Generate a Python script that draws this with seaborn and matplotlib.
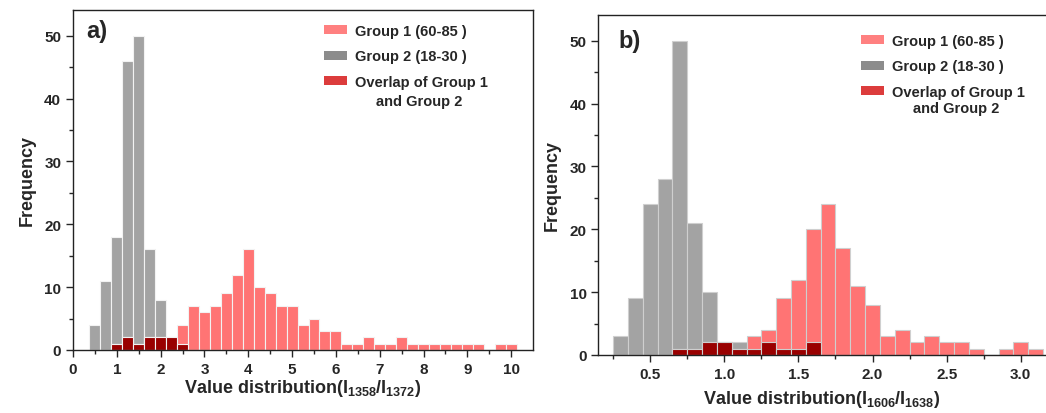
import numpy as np
import pandas as pd
import seaborn as sns
from matplotlib import pyplot as plt
from matplotlib.patches import Patch

# Panel a) counts, bins of 0.25 centred on the listed values
g1_a_x = [1.0, 1.25, 1.5, 1.75, 2.0, 2.25, 2.5, 2.75, 3.0, 3.25, 3.5, 3.75, 4.0,
          4.25, 4.5, 4.75, 5.0, 5.25, 5.5, 5.75, 6.0, 6.25, 6.5, 6.75, 7.0, 7.25,
          7.5, 7.75, 8.0, 8.25, 8.5, 8.75, 9.0, 9.25, 9.75, 10.0]
g1_a_n = [1, 2, 1, 2, 2, 2, 4, 7, 6, 7, 9, 12, 16,
          10, 9, 7, 7, 4, 5, 3, 3, 1, 1, 2, 1, 1,
          2, 1, 1, 1, 1, 1, 1, 1, 1, 1]
g2_a_x = [0.5, 0.75, 1.0, 1.25, 1.5, 1.75, 2.0, 2.25, 2.5]
g2_a_n = [4, 11, 18, 46, 50, 16, 8, 2, 1]
ov_a_x = [1.0, 1.25, 1.5, 1.75, 2.0, 2.25, 2.5]
ov_a_n = [1, 2, 1, 2, 2, 2, 1]

# Panel b) counts, bins of 0.1
g1_b_x = [0.7, 0.8, 0.9, 1.0, 1.1, 1.2, 1.3, 1.4, 1.5, 1.6, 1.7, 1.8, 1.9, 2.0,
          2.1, 2.2, 2.3, 2.4, 2.5, 2.6, 2.7, 2.9, 3.0, 3.1]
g1_b_n = [1, 1, 2, 2, 1, 3, 4, 9, 12, 20, 24, 17, 11, 8,
          3, 4, 2, 3, 2, 2, 1, 1, 2, 1]
g2_b_x = [0.3, 0.4, 0.5, 0.6, 0.7, 0.8, 0.9, 1.0, 1.1, 1.2, 1.3, 1.4, 1.5, 1.6]
g2_b_n = [3, 9, 24, 28, 50, 21, 10, 2, 2, 1, 2, 1, 1, 2]
ov_b_x = [0.7, 0.8, 0.9, 1.0, 1.1, 1.2, 1.3, 1.4, 1.5, 1.6]
ov_b_n = [1, 1, 2, 2, 1, 1, 2, 1, 1, 2]

sns.set_style("ticks")
plt.rcParams['font.family'] = ['Liberation Sans', 'DejaVu Sans']
plt.rcParams['font.weight'] = 'bold'
plt.rcParams['axes.labelweight'] = 'bold'
plt.rcParams['mathtext.fontset'] = 'custom'
plt.rcParams['mathtext.rm'] = 'Liberation Sans:bold'
plt.rcParams['mathtext.it'] = 'Liberation Sans:bold'
plt.rcParams['mathtext.bf'] = 'Liberation Sans:bold'

c_g1 = '#ff7474'
c_g2 = '#a3a3a3'
c_ov = '#990000'
leg_colors = ['#ff8080', '#8c8c8c', '#dc3c3c']

fig = plt.figure(figsize=(10.46, 4.14), dpi=100)
ax_a = fig.add_axes([0.0698, 0.1522, 0.4398, 0.8213])
ax_b = fig.add_axes([0.572, 0.1401, 0.428, 0.8213])

edges_a = [float(e) for e in np.arange(0.375, 10.2, 0.25)]
edges_b = [float(e) for e in np.round(np.arange(0.25, 3.2, 0.1), 2)]


def draw(ax, edges, gx, gn, hx, hn, ox, on, ec):
    for xs, ns, col in ((hx, hn, c_g2), (gx, gn, c_g1), (ox, on, c_ov)):
        d = pd.DataFrame({'value': xs, 'count': ns})
        sns.histplot(data=d, x='value', weights='count', bins=edges, color=col,
                     alpha=1, edgecolor=ec, linewidth=0.8, ax=ax)


draw(ax_a, edges_a, g1_a_x, g1_a_n, g2_a_x, g2_a_n, ov_a_x, ov_a_n, '#f2f2f2')
draw(ax_b, edges_b, g1_b_x, g1_b_n, g2_b_x, g2_b_n, ov_b_x, ov_b_n, '#cfcfcf')

# Axes a
ax_a.set_xlim(0, 10.5)
ax_a.set_ylim(0, 54.1)
ax_a.set_xticks(range(0, 11))
ax_a.set_xticks(np.arange(0.5, 10.5, 1), minor=True)
ax_a.set_yticks(range(0, 51, 10))
ax_a.set_yticks(range(5, 55, 10), minor=True)
ax_a.set_xlabel('Value distribution(I$_{1358}$/I$_{1372}$)',
                fontsize=13, labelpad=1)
ax_a.set_ylabel('Frequency', fontsize=13, labelpad=6)
ax_a.text(0.028, 0.94, 'a)', transform=ax_a.transAxes, fontsize=17,
          fontweight='bold', va='center')

# Axes b
ax_b.set_xlim(0.15, 3.17)
ax_b.set_ylim(0, 54.1)
ax_b.set_xticks([0.5, 1.0, 1.5, 2.0, 2.5, 3.0])
ax_b.set_xticks([0.25, 0.75, 1.25, 1.75, 2.25, 2.75], minor=True)
ax_b.set_yticks(range(0, 51, 10))
ax_b.set_yticks(range(5, 55, 10), minor=True)
ax_b.set_xlabel('Value distribution(I$_{1606}$/I$_{1638}$)',
                fontsize=13, labelpad=5)
ax_b.set_ylabel('Frequency', fontsize=13, labelpad=6)
ax_b.spines['right'].set_visible(False)
ax_b.text(0.045, 0.925, 'b)', transform=ax_b.transAxes, fontsize=17,
          fontweight='bold', va='center')

for ax in (ax_a, ax_b):
    for s in ax.spines.values():
        s.set_color('#222222')
        s.set_linewidth(1.0)
    ax.tick_params(which='major', length=5, width=1, labelsize=11, direction='out')
    ax.tick_params(which='minor', length=3, width=1, direction='out')
    for lab in ax.get_xticklabels() + ax.get_yticklabels():
        lab.set_fontweight('bold')

labels = ['Group 1 (60-85 )', 'Group 2 (18-30 )', 'Overlap of Group 1']


def add_legend(ax, anchor, extra_xy):
    handles = [Patch(facecolor=c, edgecolor='none') for c in leg_colors]
    ax.legend(handles, labels, loc='upper left', bbox_to_anchor=anchor,
              frameon=False, prop={'weight': 'bold', 'size': 10.5},
              handlelength=1.55, handleheight=0.55, handletextpad=0.6,
              labelspacing=0.78, borderaxespad=0, borderpad=0)
    ax.text(extra_xy[0], extra_xy[1], 'and Group 2', transform=ax.transAxes,
            fontsize=10.5, fontweight='bold', va='center', ha='left')


# anchors in axes fractions
add_legend(ax_a, ((324 - 73) / 460, 1 - (25 - 11) / 340), ((376 - 73) / 460, 1 - (102 - 11) / 340))
add_legend(ax_b, ((861 - 598) / 448, 1 - (35 - 16) / 340), ((913 - 598) / 448, 1 - (109 - 16) / 340))

fig.savefig('out.png', dpi=100)
